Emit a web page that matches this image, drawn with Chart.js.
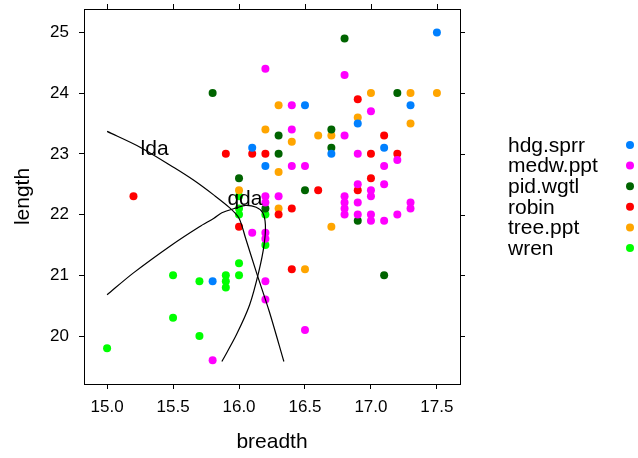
<!DOCTYPE html>
<html>
<head>
<meta charset="utf-8">
<script src="https://cdn.jsdelivr.net/npm/chart.js@4.4.1/dist/chart.umd.min.js"></script>
<style>
  html, body { margin: 0; padding: 0; background: #fff; }
  canvas { display: block; }
</style>
</head>
<body>
<canvas id="chart" width="638" height="458"></canvas>
<script>
// species and colours, in legend order
var species = ['hdg.sprr', 'medw.ppt', 'pid.wgtl', 'robin', 'tree.ppt', 'wren'];
var colors = ['#0080FF', '#FF00FF', '#006400', '#FF0000', '#FFA500', '#00FF00'];

// egg breadth / length per host species
var hdgBreadth = [17.5, 16.5, 17.3, 16.9, 16.1, 17.1, 16.7, 16.2, 15.8];
var hdgLength = [25.0, 23.8, 23.8, 23.5, 23.1, 23.1, 23.0, 22.8, 20.9];

var medwBreadth = [16.2, 16.8, 16.4, 17.0, 16.4, 16.8, 16.9, 17.2, 16.4, 16.5, 17.1, 16.9, 17.1, 17.0, 16.2, 16.3, 16.8, 17.0, 16.2,
    16.8, 16.9, 17.3, 16.8, 17.3, 16.8, 16.9, 17.0, 17.2, 17.0, 17.1, 16.1, 16.2, 16.2, 16.2, 16.2, 16.5, 15.8];
var medwLength = [24.4, 24.3, 23.8, 23.7, 23.4, 23.3, 23.0, 22.9, 22.8, 22.8, 22.8, 22.5, 22.5, 22.4, 22.3, 22.3, 22.3, 22.3, 22.2,
    22.2, 22.2, 22.2, 22.1, 22.1, 22.0, 22.0, 22.0, 22.0, 21.9, 21.9, 21.7, 21.7, 21.6, 20.9, 20.6, 20.1, 19.6];

var pidBreadth = [16.8, 15.8, 17.2, 16.7, 16.3, 16.7, 16.3, 16.0, 16.5, 16.2, 16.9, 17.1];
var pidLength = [24.9, 24.0, 24.0, 23.4, 23.3, 23.1, 23.0, 22.6, 22.4, 22.1, 21.9, 21.0];

var robinBreadth = [16.9, 17.1, 15.9, 16.1, 16.2, 17.0, 17.2, 17.0, 16.6, 16.9, 15.2, 16.4, 16.3, 16.0, 16.4];
var robinLength = [23.9, 23.3, 23.0, 23.0, 23.0, 23.0, 23.0, 22.6, 22.4, 22.4, 22.3, 22.1, 22.0, 21.8, 21.1];

var treeBreadth = [17.0, 17.3, 17.5, 16.3, 16.9, 17.3, 16.2, 16.6, 16.7, 16.4, 16.3, 16.0, 16.3, 16.7, 16.5];
var treeLength = [24.0, 24.0, 24.0, 23.8, 23.6, 23.5, 23.4, 23.3, 23.3, 23.2, 22.7, 22.4, 22.1, 21.8, 21.1];

var wrenBreadth = [16.0, 16.0, 16.0, 16.2, 16.2, 16.0, 15.9, 16.0, 15.5, 15.7, 15.9, 15.9, 15.5, 15.7, 15.0];
var wrenLength = [22.3, 22.1, 22.0, 22.0, 21.5, 21.2, 21.0, 21.0, 21.0, 20.9, 20.9, 20.8, 20.3, 20.0, 19.8];

// decision boundaries
var ldaBreadth = [15.00, 15.25, 15.51, 15.66, 15.81, 15.93, 16.00, 16.05, 16.13, 16.23, 16.34];
var ldaLength = [23.37, 23.11, 22.77, 22.56, 22.32, 22.11, 21.94, 21.61, 21.06, 20.40, 19.58];
var qdaBreadth = [15.00, 15.20, 15.49, 15.70, 15.81, 15.87, 15.98, 16.05, 16.13, 16.18, 16.20, 16.19, 16.15, 16.08, 15.98, 15.87];
var qdaLength = [20.68, 21.04, 21.50, 21.80, 21.94, 22.03, 22.11, 22.15, 22.12, 22.03, 21.83, 21.50, 21.06, 20.51, 20.02, 19.58];

// tick labels
var xTicks = [15.0, 15.5, 16.0, 16.5, 17.0, 17.5];
var yTicks = [20, 21, 22, 23, 24, 25];

var breadths = [hdgBreadth, medwBreadth, pidBreadth, robinBreadth, treeBreadth, wrenBreadth];
var lengths = [hdgLength, medwLength, pidLength, robinLength, treeLength, wrenLength];

function pairs(xs, ys) {
    var out = [];
    for (var i = 0; i < xs.length; i++) out.push({ x: xs[i], y: ys[i] });
    return out;
}

var FONT = 'Liberation Sans, Arial, Helvetica, sans-serif';

var datasets = [];
datasets.push({
    label: 'lda', type: 'line', data: pairs(ldaBreadth, ldaLength), order: 0,
    borderColor: '#000', borderWidth: 1.2, pointRadius: 0, fill: false, tension: 0.3, showLine: true
});
datasets.push({
    label: 'qda', type: 'line', data: pairs(qdaBreadth, qdaLength), order: 0,
    borderColor: '#000', borderWidth: 1.2, pointRadius: 0, fill: false, tension: 0.3, showLine: true
});
for (var i = 0; i < species.length; i++) {
    datasets.push({
        label: species[i],
        data: pairs(breadths[i], lengths[i]),
        order: 1,
        backgroundColor: colors[i],
        borderColor: colors[i],
        borderWidth: 0,
        pointRadius: 4,
        pointHoverRadius: 4
    });
}

// curve labels, placed in data units
var curveLabels = [
    { text: 'lda', x: 15.36, y: 23.07 },
    { text: 'qda', x: 16.045, y: 22.26 }
];

var framePlugin = {
    id: 'frame',
    afterDatasetsDraw: function (chart) {
        var c = chart.ctx;
        var xs = chart.scales.x, ys = chart.scales.y;
        c.save();
        c.fillStyle = '#000';
        c.font = '21px ' + FONT;
        c.textAlign = 'center';
        c.textBaseline = 'middle';
        curveLabels.forEach(function (l) {
            c.fillText(l.text, xs.getPixelForValue(l.x), ys.getPixelForValue(l.y));
        });
        c.restore();
    },
    afterDraw: function (chart) {
        var c = chart.ctx, a = chart.chartArea;
        var xs = chart.scales.x, ys = chart.scales.y;
        c.save();
        c.strokeStyle = '#000';
        c.lineWidth = 1;
        c.strokeRect(Math.round(a.left) + 0.5, Math.round(a.top) + 0.5,
            Math.round(a.right - a.left), Math.round(a.bottom - a.top));
        // top and right ticks
        c.beginPath();
        xTicks.forEach(function (v) {
            var px = Math.round(xs.getPixelForValue(v)) + 0.5;
            c.moveTo(px, a.top); c.lineTo(px, a.top - 5);
        });
        yTicks.forEach(function (v) {
            var py = Math.round(ys.getPixelForValue(v)) + 0.5;
            c.moveTo(a.right, py); c.lineTo(a.right + 5, py);
        });
        c.stroke();

        // key on the right: text then dot
        c.font = '21px ' + FONT;
        c.textAlign = 'left';
        c.textBaseline = 'middle';
        for (var i = 0; i < species.length; i++) {
            var y = 145 + i * 20.6;
            c.fillStyle = '#000';
            c.fillText(species[i], 508, y + 1);
            c.fillStyle = colors[i];
            c.beginPath();
            c.arc(630, y, 4, 0, Math.PI * 2);
            c.fill();
        }
        c.restore();
    }
};

var ctx = document.getElementById('chart').getContext('2d');
var chart = new Chart(ctx, {
    type: 'scatter',
    data: { datasets: datasets },
    options: {
        responsive: false,
        animation: false,
        devicePixelRatio: 1,
        layout: { padding: { top: 9, right: 178, left: 0, bottom: 0 } },
        plugins: { legend: { display: false }, tooltip: { enabled: false } },
        scales: {
            x: {
                type: 'linear', min: 14.825, max: 17.675,
                afterBuildTicks: function (s) { s.ticks = xTicks.map(function (v) { return { value: v }; }); },
                afterFit: function (s) { s.height = 74; s.paddingLeft = 0; s.paddingRight = 0; },
                grid: { drawOnChartArea: false, drawTicks: true, tickLength: 5, color: '#000' },
                border: { display: false },
                ticks: {
                    color: '#000', font: { family: FONT, size: 17 }, padding: 8, maxRotation: 0,
                    callback: function (v) { return Number(v).toFixed(1); }
                },
                title: { display: true, text: 'breadth', color: '#000', font: { family: FONT, size: 21 }, padding: { top: 0, bottom: 3 } }
            },
            y: {
                type: 'linear', min: 19.21, max: 25.385,
                afterBuildTicks: function (s) { s.ticks = yTicks.map(function (v) { return { value: v }; }); },
                afterFit: function (s) { s.width = 84; s.paddingTop = 0; s.paddingBottom = 0; },
                grid: { drawOnChartArea: false, drawTicks: true, tickLength: 5, color: '#000' },
                border: { display: false },
                ticks: {
                    color: '#000', font: { family: FONT, size: 17 }, padding: 10,
                    callback: function (v) { return String(v); }
                },
                title: { display: true, text: 'length', color: '#000', font: { family: FONT, size: 21 }, padding: { top: 11, bottom: 0 } }
            }
        }
    },
    plugins: [framePlugin]
});
</script>
</body>
</html>
